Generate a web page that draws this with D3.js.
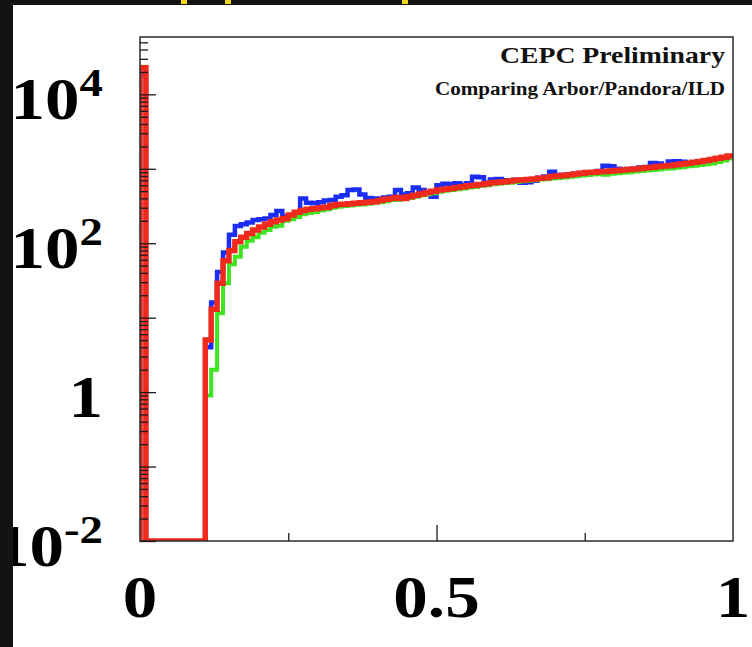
<!DOCTYPE html>
<html>
<head>
<meta charset="utf-8">
<script src="https://cdn.jsdelivr.net/npm/d3@7"></script>
<style>
  html, body { margin: 0; padding: 0; background: #121212; }
  svg { display: block; }
</style>
</head>
<body>
<div id="chart"></div>
<script>
// 100 bins from 0 to 1, log-scale counts
const binCount = 100;
const xDomain = [0, 1];
const yDomain = [0.01, 58900];

const xMajorTicks = [0.5];
const xMinorTicks = [0.25, 0.75];
const xLabelValues = [0, 0.5, 1];
const xLabelTexts = ["0", "0.5", "1"];
const yLabelPowers = [4, 2, 0, -2];

const titleText = "CEPC Preliminary";
const subtitleText = "Comparing Arbor/Pandora/ILD";

const blueCounts = [
  18000, 0, 0, 0, 0, 0, 0, 0, 0, 0,
  0, 4, 16, 41, 75, 130, 170, 180, 190, 205,
  210, 215, 240, 270, 230, 230, 250, 400, 350, 345,
  355, 375, 380, 420, 440, 520, 525, 450, 405, 400,
  395, 410, 420, 520, 450, 470, 560, 520, 480, 420,
  600, 630, 620, 640, 610, 640, 780, 770, 650, 720,
  730, 700, 690, 710, 650, 660, 690, 760, 790, 910,
  820, 830, 800, 860, 880, 870, 900, 930, 1100, 1080,
  1000, 960, 990, 1000, 1040, 1060, 1200, 1180, 1100, 1250,
  1260, 1240, 1120, 1200, 1230, 1280, 1300, 1360, 1420, 1450
];

const greenCounts = [
  23500, 0, 0, 0, 0, 0, 0, 0, 0, 0,
  0, 0.9, 2.0, 11.5, 29, 52, 66, 90, 108, 120,
  138, 150, 166, 172, 200, 210, 225, 245, 255, 262,
  275, 285, 300, 310, 315, 322, 328, 332, 340, 350,
  355, 365, 380, 385, 395, 405, 420, 440, 455, 470,
  490, 505, 520, 530, 545, 560, 570, 590, 600, 620,
  630, 645, 650, 665, 680, 690, 700, 715, 725, 740,
  750, 765, 780, 795, 810, 825, 840, 850, 830, 860,
  870, 885, 900, 920, 930, 950, 965, 980, 1000, 1010,
  1030, 1050, 1080, 1100, 1120, 1150, 1180, 1230, 1290, 1370
];

const redCounts = [
  22800, 0, 0, 0, 0, 0, 0, 0, 0, 0,
  0, 5, 13, 29, 58, 80, 105, 120, 135, 150,
  165, 180, 195, 205, 215, 240, 260, 275, 285, 290,
  300, 305, 320, 330, 335, 340, 345, 350, 355, 360,
  375, 390, 400, 410, 400, 420, 440, 460, 480, 500,
  520, 530, 545, 560, 575, 590, 600, 615, 630, 650,
  660, 670, 685, 700, 705, 720, 730, 745, 760, 790,
  800, 815, 830, 850, 870, 890, 900, 910, 920, 935,
  950, 965, 980, 995, 1010, 1030, 1050, 1070, 1090, 1110,
  1130, 1160, 1190, 1220, 1250, 1290, 1330, 1380, 1430, 1480
];

const series = [
  { counts: blueCounts, color: "#1b2cf4", width: 4.5 },
  { counts: greenCounts, color: "#3ee41f", width: 4 },
  { counts: redCounts, color: "#ef2a1c", width: 5.5 }
];

const W = 752, H = 647;
const frame = { left: 140, right: 733, top: 37, bottom: 541 };
const serif = "'Liberation Serif', 'Times New Roman', serif";
const stretch = 1.17; // the labels are a bit wider than plain Times

const svg = d3.select("#chart").append("svg")
  .attr("width", W)
  .attr("height", H);

// white canvas inside the dark border
svg.append("rect")
  .attr("x", 13).attr("y", 5)
  .attr("width", W - 13).attr("height", H - 5)
  .attr("fill", "#ffffff");

const x = d3.scaleLinear().domain(xDomain).range([frame.left, frame.right]);
const y = d3.scaleLog().domain(yDomain).range([frame.bottom, frame.top]).clamp(true);

svg.append("clipPath").attr("id", "plot-clip")
  .append("rect")
  .attr("x", frame.left).attr("y", frame.top)
  .attr("width", frame.right - frame.left)
  .attr("height", frame.bottom - frame.top);

// histogram outlines
const edges = d3.range(binCount + 1).map(i => xDomain[0] + i * (xDomain[1] - xDomain[0]) / binCount);

function stepPoints(counts) {
  const pts = [[edges[0], yDomain[0]]];
  counts.forEach((c, i) => {
    pts.push([edges[i], c]);
    pts.push([edges[i + 1], c]);
  });
  return pts;
}

const line = d3.line()
  .x(d => x(d[0]))
  .y(d => y(d[1]));

const histG = svg.append("g").attr("clip-path", "url(#plot-clip)");
histG.selectAll("path")
  .data(series)
  .join("path")
  .attr("d", d => line(stepPoints(d.counts)))
  .attr("fill", "none")
  .attr("stroke", d => d.color)
  .attr("stroke-width", d => d.width)
  .attr("stroke-linejoin", "miter")
  .attr("stroke-linecap", "butt");

// frame
svg.append("rect")
  .attr("x", frame.left).attr("y", frame.top)
  .attr("width", frame.right - frame.left)
  .attr("height", frame.bottom - frame.top)
  .attr("fill", "none")
  .attr("stroke", "#2a2a2a")
  .attr("stroke-width", 1.5);

// y ticks (inward), long at decades, short elsewhere
const allYTicks = y.ticks().filter(v => v >= yDomain[0] && v <= yDomain[1]);
const isDecade = v => Math.abs(Math.log10(v) - Math.round(Math.log10(v))) < 1e-9;

function styleAxis(g) {
  g.select(".domain").remove();
  g.selectAll("line").attr("stroke", "#1a1a1a").attr("stroke-width", 1.3);
}

svg.append("g")
  .attr("transform", `translate(${frame.left},0)`)
  .call(d3.axisLeft(y).tickValues(allYTicks.filter(v => !isDecade(v))).tickSize(-8).tickFormat(""))
  .call(styleAxis);

svg.append("g")
  .attr("transform", `translate(${frame.left},0)`)
  .call(d3.axisLeft(y).tickValues(allYTicks.filter(isDecade)).tickSize(-16).tickFormat(""))
  .call(styleAxis);

svg.append("g")
  .attr("transform", `translate(0,${frame.bottom})`)
  .call(d3.axisBottom(x).tickValues(xMinorTicks).tickSize(-8).tickFormat(""))
  .call(styleAxis);

svg.append("g")
  .attr("transform", `translate(0,${frame.bottom})`)
  .call(d3.axisBottom(x).tickValues(xMajorTicks).tickSize(-16).tickFormat(""))
  .call(styleAxis);

// y labels: 10^n
yLabelPowers.forEach(p => {
  const t = svg.append("text")
    .attr("transform", `translate(103,${y(Math.pow(10, p)) + 25}) scale(${stretch},1)`)
    .attr("text-anchor", "end")
    .attr("font-family", serif)
    .attr("font-weight", "bold")
    .attr("font-size", 59)
    .attr("fill", "#000");
  if (p === 0) {
    t.text("1");
  } else {
    t.append("tspan").text("10");
    t.append("tspan").attr("font-size", 40).attr("dy", -23).text(p);
  }
});

// x labels
svg.selectAll(".x-label")
  .data(xLabelValues)
  .join("text")
  .attr("class", "x-label")
  .attr("transform", d => `translate(${x(d)},617) scale(${stretch},1)`)
  .attr("text-anchor", "middle")
  .attr("font-family", serif)
  .attr("font-weight", "bold")
  .attr("font-size", 59)
  .attr("fill", "#000")
  .text((d, i) => xLabelTexts[i]);

// titles in the top right corner
svg.append("text")
  .attr("x", 725).attr("y", 63)
  .attr("text-anchor", "end")
  .attr("font-family", serif)
  .attr("font-weight", "bold")
  .attr("font-size", 22.5)
  .attr("textLength", 225)
  .attr("lengthAdjust", "spacingAndGlyphs")
  .attr("fill", "#111")
  .text(titleText);

svg.append("text")
  .attr("x", 725).attr("y", 95)
  .attr("text-anchor", "end")
  .attr("font-family", serif)
  .attr("font-weight", "bold")
  .attr("font-size", 18)
  .attr("textLength", 290)
  .attr("lengthAdjust", "spacingAndGlyphs")
  .attr("fill", "#111")
  .text(subtitleText);

// dark border strips (drawn last, they cut into the 10^-2 label)
svg.append("rect").attr("x", 0).attr("y", 0).attr("width", 13).attr("height", H).attr("fill", "#131313");
svg.append("rect").attr("x", 0).attr("y", 0).attr("width", W).attr("height", 5).attr("fill", "#131313");

// bits of yellow text cut off at the top edge
[181, 225, 402].forEach(px => {
  svg.append("rect")
    .attr("x", px).attr("y", 0)
    .attr("width", 6).attr("height", 4)
    .attr("fill", "#f0d81a");
});
</script>
</body>
</html>
